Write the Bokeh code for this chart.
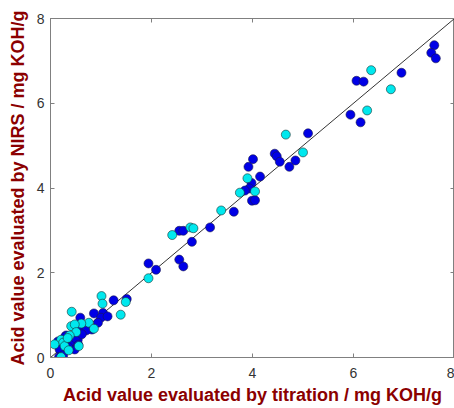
from bokeh.plotting import figure
from bokeh.models import LinearAxis, Range1d, FixedTicker
from bokeh.embed import file_html
from bokeh.resources import INLINE

# Series 1 (blue)
blue_x = [5.10, 6.06, 6.20, 6.95, 5.94, 6.14, 7.60, 7.54, 7.63,
          4.44, 4.48, 4.54, 4.85, 4.73, 4.01, 3.92, 4.15, 3.98, 3.94, 3.85,
          3.99, 4.05, 3.63, 3.16, 2.55, 2.63, 2.80, 1.94, 2.55, 2.63, 2.09,
          1.25, 1.51, 0.86, 1.04, 1.00, 1.13, 0.94, 0.59, 0.82, 0.58, 0.71,
          0.31, 0.54, 0.44, 0.15, 0.41, 0.18, 0.48, 0.25, 0.17, 0.29, 0.50,
          0.62, 0.35, 0.55]
blue_y = [5.29, 6.53, 6.51, 6.72, 5.73, 5.55, 7.37, 7.19, 7.06,
          4.81, 4.75, 4.62, 4.65, 4.50, 4.68, 4.50, 4.27, 4.12, 3.99, 3.94,
          3.70, 3.71, 3.44, 3.07, 2.99, 2.99, 2.73, 2.22, 2.31, 2.15, 2.07,
          1.35, 1.38, 1.04, 1.05, 0.94, 0.97, 0.82, 0.94, 0.66, 0.66, 0.64,
          0.52, 0.42, 0.38, 0.38, 0.31, 0.19, 0.19, 0.05, 0.01, 0.49, 0.45,
          0.55, 0.25, 0.30]

# Series 2 (cyan)
cyan_x = [4.66, 6.35, 6.74, 6.27, 5.00, 3.90, 3.75, 4.05, 3.38, 2.77, 2.83,
          2.41, 1.94, 1.01, 1.03, 1.49, 1.39, 0.42, 0.76, 0.61, 0.86, 0.41,
          0.48, 0.51, 0.38, 0.21, 0.25, 0.08, 0.28, 0.36, 0.21, 0.56, 0.34]
cyan_y = [5.26, 6.78, 6.33, 5.83, 4.84, 4.23, 3.89, 3.92, 3.47, 3.07, 3.05,
          2.89, 1.87, 1.45, 1.27, 1.31, 1.01, 1.08, 0.82, 0.80, 0.68, 0.74,
          0.78, 0.60, 0.52, 0.42, 0.35, 0.31, 0.27, 0.17, 0.01, 0.27, 0.46]

ideal = [0, 8]
ticks = [0, 2, 4, 6, 8]

x_label = "Acid value evaluated by titration / mg KOH/g"
y_label = "Acid value evaluated by NIRS / mg KOH/g"

p = figure(width=454, height=407, output_backend="svg", toolbar_location=None,
           x_range=Range1d(0, 8), y_range=Range1d(0, 8),
           min_border_left=50, min_border_right=0, min_border_top=18,
           min_border_bottom=50)
p.grid.visible = False
p.outline_line_color = "#808080"
p.background_fill_color = "white"
p.border_fill_color = "white"

p.line(ideal, ideal, line_color="#333333", line_width=1)

p.scatter(blue_x, blue_y, size=9, fill_color="#0000E6", line_color="#1a1a4d",
          line_width=0.6)
p.scatter(cyan_x, cyan_y, size=9, fill_color="#00E8EE", line_color="#1a3333",
          line_width=0.6)

label_color = "#8B0000"
for ax in (p.xaxis[0], p.yaxis[0]):
    ax.ticker = FixedTicker(ticks=ticks)
    ax.major_tick_in = 4
    ax.major_tick_out = 0
    ax.minor_tick_line_color = None
    ax.axis_line_color = "#808080"
    ax.major_tick_line_color = "#808080"
    ax.major_label_text_font = "Liberation Sans"
    ax.major_label_text_font_size = "14px"
    ax.major_label_text_color = "#333333"
    ax.axis_label_text_font = "Liberation Sans"
    ax.axis_label_text_font_size = "18px"
    ax.axis_label_text_font_style = "bold"
    ax.axis_label_text_color = label_color

p.xaxis[0].axis_label = x_label
p.yaxis[0].axis_label = y_label
p.xaxis[0].major_label_standoff = 10
p.yaxis[0].major_label_standoff = 6
p.xaxis[0].axis_label_standoff = 4
p.yaxis[0].axis_label_standoff = 6

for loc in ("above", "right"):
    ax = LinearAxis(ticker=FixedTicker(ticks=ticks))
    ax.major_tick_in = 4
    ax.major_tick_out = 0
    ax.minor_tick_line_color = None
    ax.axis_line_color = "#808080"
    ax.major_tick_line_color = "#808080"
    ax.major_label_text_color = None
    ax.major_label_text_font_size = "1px"
    ax.major_label_standoff = 0
    p.add_layout(ax, loc)

open("out.html", "w").write(file_html(p, INLINE))
